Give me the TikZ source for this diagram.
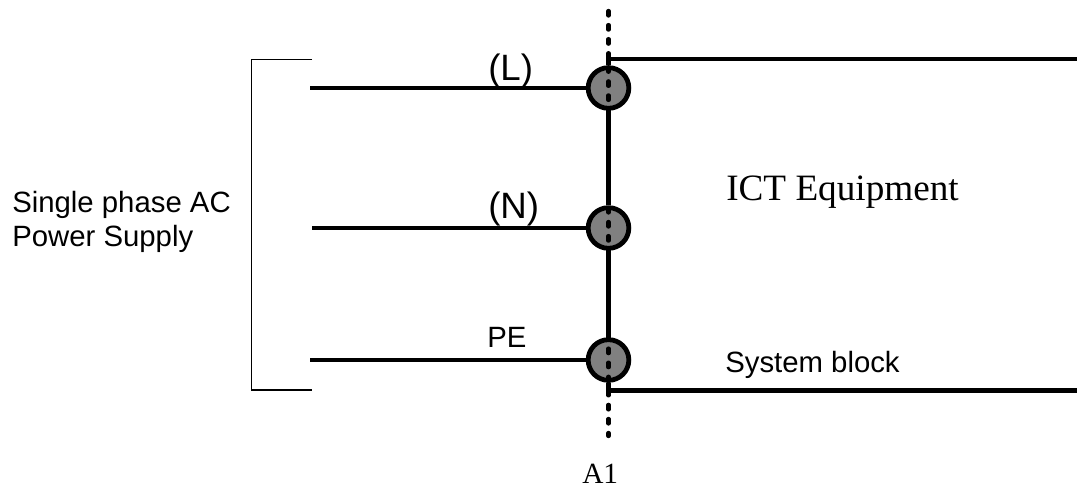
\documentclass[tikz,border=0pt]{standalone}
\usepackage{fontspec}
\setmainfont{Liberation Serif}
\setsansfont{Liberation Sans}
\tikzset{
	joint/.style={circle, draw, fill=jointgray, line width=3.6pt, minimum size=30.5pt, inner sep=0pt},
	wire/.style={line width=2.9pt},
	bus/.style={line width=3.3pt},
	axis/.style={line width=3.2pt, line cap=round, dash pattern=on 3.4pt off 7.15pt},
	bracket/.style={line width=0.8pt},
	sans/.style={font=\sffamily\fontsize{22pt}{25.5pt}\selectfont, anchor=base west, inner sep=0pt},
	sansbig/.style={font=\sffamily\fontsize{27.5pt}{30pt}\selectfont, anchor=base west, inner sep=0pt},
	serif/.style={font=\rmfamily\fontsize{22pt}{26pt}\selectfont, anchor=base west, inner sep=0pt},
	serifbig/.style={font=\rmfamily\fontsize{27.9pt}{32pt}\selectfont, anchor=base west, inner sep=0pt}
}
\definecolor{jointgray}{RGB}{128,128,128}
\newcommand{\phase}[4] % name, x of free end, y, x of joint
{
	\coordinate (#1end) at (#2,#3);
	\node[joint] (#1) at (#4,#3) {};
	\draw[wire] (#1end) -- (#1);
}
\begin{document}
\begin{tikzpicture}[x=0.75pt, y=-0.75pt]
	% 1077 x 491, one unit is one pixel
	\useasboundingbox (0,0) rectangle (1077,491);

	% system block outline
	\coordinate (topcorner) at (608.5,59);
	\coordinate (topright) at (1077,59);
	\coordinate (botcorner) at (608.5,390.5);
	\coordinate (botright) at (1077,390.5);

	\phase{jl}{310}{88}{608.5};
	\phase{jn}{312}{228}{608.5};
	\phase{jpe}{310}{360}{608.5};

	\draw[bus] (topright) -- (topcorner) -- (jl);
	\draw[bus] (jl) -- (jn);
	\draw[bus] (jn) -- (jpe);
	\draw[bus] (jpe) -- (botcorner) -- (botright);

	% boundary A1
	\coordinate (axistop) at (608.5,11);
	\coordinate (axisbot) at (608.5,436);
	\draw[axis] (axistop) -- (axisbot);

	% supply bracket
	\coordinate (brtop) at (312,59.5);
	\coordinate (brtopleft) at (251.5,59.5);
	\coordinate (brbotleft) at (251.5,390);
	\coordinate (brbot) at (312,390);
	\draw[bracket] (brtop) -- (brtopleft) -- (brbotleft) -- (brbot);

	% labels
	\node[sans] (supply1) at (12,212.5) {Single phase AC};
	\node[sans] (supply2) at (12,247) {Power Supply};
	\node[sansbig] (labell) at (488,81) {(L)};
	\node[sansbig] (labeln) at (488,219) {(N)};
	\node[sans] (labelpe) at (487,347) {PE};
	\node[sans] (labelblock) at (725,372) {System block};
	\node[serifbig] (labelict) at (726,201) {ICT Equipment};
	\node[serif] (labela) at (582,483) {A1};
\end{tikzpicture}
\end{document}
